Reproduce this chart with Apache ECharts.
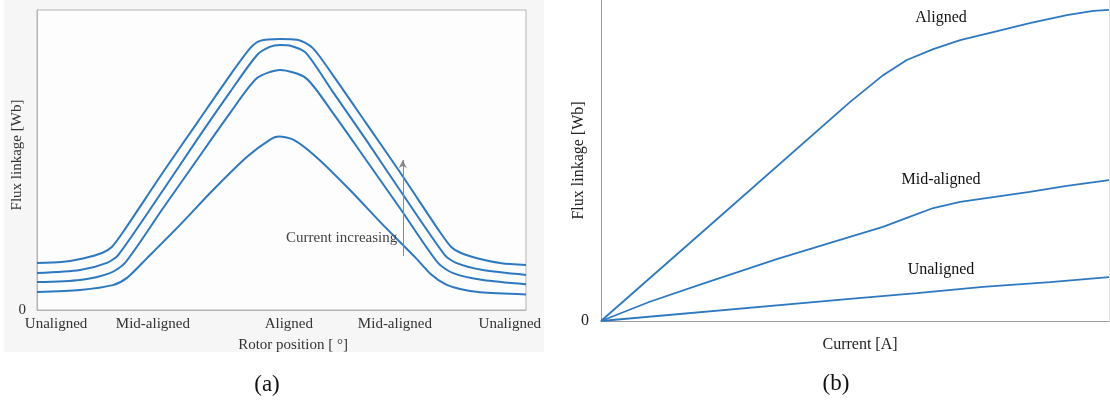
<!DOCTYPE html>
<html>
<head>
<meta charset="utf-8">
<script src="https://cdn.jsdelivr.net/npm/echarts@6/dist/echarts.min.js"></script>
<style>
html,body{margin:0;padding:0;background:#ffffff;}
#chart{width:1110px;height:402px;}
</style>
</head>
<body>
<div id="chart"></div>
<script>
// ---------- Panel (a): flux linkage vs rotor position ----------
const posTickPositions = [3.9, 23.7, 51.5, 73.2, 96.7];
const posTickLabels = ['Unaligned', 'Mid-aligned', 'Aligned', 'Mid-aligned', 'Unaligned'];

const fluxCurve1 = [[0,15.7],[5,16.0],[9.4,17.2],[13.3,19.0],[15.3,21.0],[17.6,26.0],[25.8,46.0],[32.7,62.3],[39.5,78.3],[43.6,87.3],[45.6,89.7],[49.7,90.3],[53.2,90.1],[56.4,87.3],[60.5,78.3],[67.3,62.3],[74.2,46.0],[82.4,26.0],[84.7,21.0],[86.7,19.0],[90.6,17.0],[95,15.6],[100,15.0]];
const fluxCurve2 = [[0,12.3],[8.8,13.3],[14.3,15.7],[16.6,18.3],[25.8,40.0],[32.7,56.7],[39.5,72.7],[45.0,85.0],[47.6,87.7],[49.7,88.3],[52.0,88.0],[55.0,85.7],[60.5,72.7],[67.3,56.7],[74.2,40.0],[83.4,18.3],[85.7,15.7],[91.2,13.3],[100,11.7]];
const fluxCurve3 = [[0,9.3],[8.8,10.0],[14.9,12.3],[18.0,15.7],[25.8,34.0],[32.7,50.0],[39.5,65.7],[45.0,77.3],[49.7,80.0],[55.0,77.3],[60.5,65.7],[67.3,50.0],[74.2,34.0],[82.0,15.7],[85.1,12.3],[91.2,10.0],[100,8.6]];
const fluxCurve4 = [[0,6.0],[8.8,6.7],[15.5,8.3],[18.4,10.7],[22.5,17.3],[29.2,28.3],[36.0,40.0],[42.9,51.0],[47.6,56.7],[49.5,57.8],[52.5,56.7],[57.1,51.0],[64.0,40.0],[70.8,28.3],[77.5,17.3],[80.5,12.0],[83.5,8.6],[86.5,7.0],[90.6,5.9],[100,5.2]];
const arrowLine = [[74.8,18],[74.8,50]];

// ---------- Panel (b): flux linkage vs current ----------
const alignedCurve = [[0,0],[19.5,27.1],[49.0,68.2],[55.3,76.3],[60.2,81.3],[65.4,84.7],[70.7,87.5],[77.2,90.0],[84.4,92.8],[91.7,95.3],[96.9,96.6],[100,96.9]];
const midAlignedCurve = [[0,0],[9.6,6.0],[19.5,11.3],[34.6,19.3],[49.0,26.2],[55.5,29.3],[60.2,32.1],[65.4,35.2],[70.7,37.1],[77.2,38.6],[84.4,40.2],[91.7,42.1],[100,43.9]];
const unalignedCurve = [[0,0],[49.0,6.9],[62.2,8.7],[75.2,10.6],[88.4,12.1],[100,13.7]];
const curveNames = ['Aligned', 'Mid-aligned', 'Unaligned'];

const BLUE = '#2e78c0';
const FONT = 'Liberation Serif';

const chart = echarts.init(document.getElementById('chart'));

function leftLine(data) {
  return {
    type: 'line', xAxisIndex: 0, yAxisIndex: 0, data: data,
    showSymbol: false, smooth: 0.25,
    lineStyle: { color: BLUE, width: 2 }, silent: true, z: 3
  };
}
function rightLine(data) {
  return {
    type: 'line', xAxisIndex: 1, yAxisIndex: 1, data: data,
    showSymbol: false, smooth: false,
    lineStyle: { color: BLUE, width: 1.8 }, silent: true, z: 3
  };
}

const option = {
  animation: false,
  backgroundColor: '#ffffff',
  textStyle: { fontFamily: FONT },
  graphic: [
    { type: 'rect', z: -10, shape: { x: 4, y: 0, width: 540, height: 352 }, style: { fill: '#f6f6f6' } },
    { type: 'text', x: 286, y: 238, style: { text: 'Current increasing', font: '15px "Liberation Serif"', fill: '#444', verticalAlign: 'middle', align: 'left' }, z: 5 },
    { type: 'text', x: 267, y: 385, style: { text: '(a)', font: '23px "Liberation Serif"', fill: '#111', align: 'center', verticalAlign: 'middle' } },
    { type: 'text', x: 836, y: 384, style: { text: '(b)', font: '23px "Liberation Serif"', fill: '#111', align: 'center', verticalAlign: 'middle' } },
    { type: 'text', x: 941, y: 18, style: { text: curveNames[0], font: '16px "Liberation Serif"', fill: '#111', align: 'center', verticalAlign: 'middle' } },
    { type: 'text', x: 941, y: 180, style: { text: curveNames[1], font: '16px "Liberation Serif"', fill: '#111', align: 'center', verticalAlign: 'middle' } },
    { type: 'text', x: 941, y: 270, style: { text: curveNames[2], font: '16px "Liberation Serif"', fill: '#111', align: 'center', verticalAlign: 'middle' } }
  ],
  grid: [
    { left: 37, top: 10, width: 489, height: 300, show: true, borderColor: '#b4b4b4', borderWidth: 1, backgroundColor: '#fdfdfd', containLabel: false },
    { left: 601, top: 0, width: 508, height: 321, show: false, containLabel: false }
  ],
  xAxis: [
    {
      gridIndex: 0, type: 'value', min: 0, max: 100,
      name: 'Rotor position [ °]', nameLocation: 'middle', nameGap: 28, nameMoveOverlap: false,
      nameTextStyle: { fontFamily: FONT, fontSize: 15, color: '#333', padding: [0, 0, 0, 23] },
      axisLine: { show: true, lineStyle: { color: '#b4b4b4', width: 1 } },
      axisTick: { show: false }, splitLine: { show: false },
      axisLabel: {
        show: true, margin: 7, fontFamily: FONT, fontSize: 15, color: '#333',
        customValues: posTickPositions,
        formatter: function (v) {
          const i = posTickPositions.findIndex(p => Math.abs(p - v) < 1e-6);
          return i >= 0 ? posTickLabels[i] : '';
        }
      }
    },
    {
      gridIndex: 1, type: 'value', min: 0, max: 100,
      name: 'Current [A]', nameLocation: 'middle', nameGap: 16, nameMoveOverlap: false,
      nameTextStyle: { fontFamily: FONT, fontSize: 16, color: '#222', padding: [0, 0, 0, 10] },
      axisLine: { show: true, lineStyle: { color: '#9a9a9a', width: 1 } },
      axisTick: { show: false }, splitLine: { show: false }, axisLabel: { show: false }
    }
  ],
  yAxis: [
    {
      gridIndex: 0, type: 'value', min: 0, max: 100,
      name: 'Flux linkage [Wb]', nameLocation: 'middle', nameGap: 12, nameRotate: 90, nameMoveOverlap: false,
      nameTextStyle: { fontFamily: FONT, fontSize: 15, color: '#333', padding: [0, 0, 0, 10] },
      axisLine: { show: true, lineStyle: { color: '#b4b4b4', width: 1 } },
      axisTick: { show: false }, splitLine: { show: false },
      axisLabel: { show: true, margin: 11, fontFamily: FONT, fontSize: 15, color: '#333', customValues: [0], formatter: function (v) { return String(v); } }
    },
    {
      gridIndex: 1, type: 'value', min: 0, max: 100,
      name: 'Flux linkage [Wb]', nameLocation: 'middle', nameGap: 14, nameRotate: 90, nameMoveOverlap: false,
      nameTextStyle: { fontFamily: FONT, fontSize: 16, color: '#222' },
      axisLine: { show: true, lineStyle: { color: '#9a9a9a', width: 1 } },
      axisTick: { show: false }, splitLine: { show: false },
      axisLabel: { show: true, margin: 12, fontFamily: FONT, fontSize: 16, color: '#222', customValues: [0], formatter: function (v) { return String(v); } }
    },
    {
      gridIndex: 1, type: 'value', min: 0, max: 100, position: 'right',
      axisLine: { show: true, lineStyle: { color: '#e2e2e2', width: 1 } },
      axisTick: { show: false }, splitLine: { show: false }, axisLabel: { show: false }
    }
  ],
  series: [
    leftLine(fluxCurve1),
    leftLine(fluxCurve2),
    leftLine(fluxCurve3),
    leftLine(fluxCurve4),
    {
      type: 'line', xAxisIndex: 0, yAxisIndex: 0, data: [], silent: true,
      markLine: {
        silent: true, animation: false,
        symbol: ['none', 'arrow'], symbolSize: [6, 8],
        lineStyle: { color: '#8a8a8a', width: 1, type: 'solid' },
        label: { show: false },
        data: [[{ coord: arrowLine[0] }, { coord: arrowLine[1] }]]
      }
    },
    rightLine(alignedCurve),
    rightLine(midAlignedCurve),
    rightLine(unalignedCurve)
  ]
};
chart.setOption(option);
</script>
</body>
</html>
